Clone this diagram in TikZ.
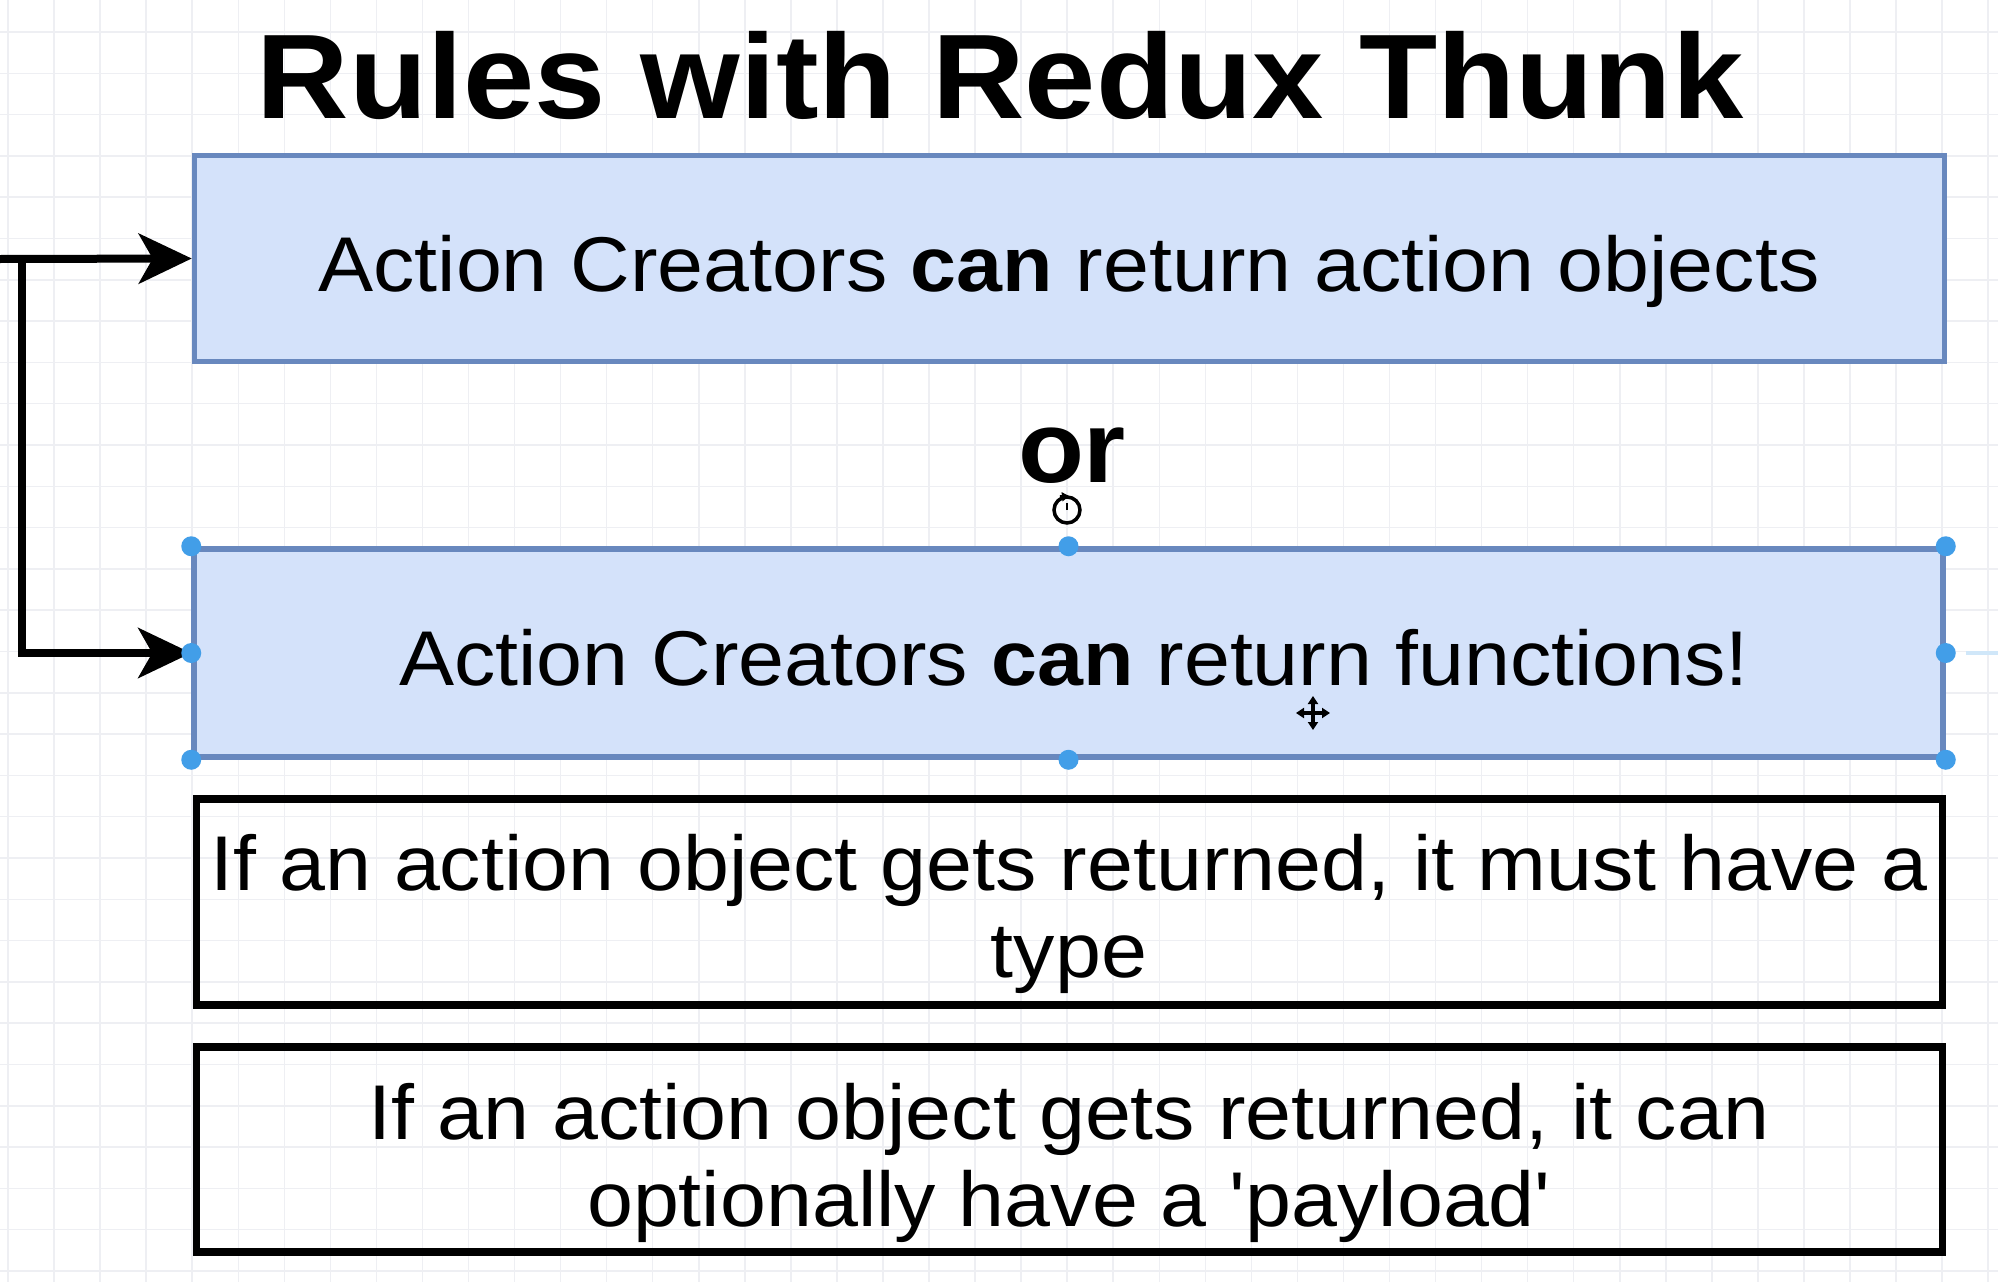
\documentclass[tikz,border=0pt]{standalone}
\usepackage{fontspec}
\usepackage{graphicx}
\setmainfont{Liberation Sans}
\newfontfamily\plainsans{Liberation Sans}
\usetikzlibrary{arrows.meta}
\definecolor{boxfill}{RGB}{212,226,250}
\definecolor{boxline}{RGB}{104,136,190}
\definecolor{handleblue}{RGB}{66,158,232}
\definecolor{gridgray}{RGB}{238,239,243}
\newcommand\squash[1]{\scalebox{1}[0.94]{#1}}
\tikzset{
  bluebox/.style={draw=boxline, fill=boxfill, line width=5.5pt, inner sep=0pt},
  blackbox/.style={draw=black, line width=7.5pt, inner sep=0pt},
  boxtext/.style={anchor=base, inner sep=0pt, font=\plainsans\fontsize{82.6pt}{93pt}\selectfont},
  titletext/.style={anchor=base, inner sep=0pt, font=\plainsans\fontsize{128pt}{140pt}\selectfont\bfseries},
  ortext/.style={anchor=base, inner sep=0pt, font=\plainsans\fontsize{108pt}{120pt}\selectfont\bfseries},
  conn/.style={draw=black, line width=8pt, line join=miter, -{Stealth[length=53pt, width=50pt, inset=14pt]}},
  handle/.style={fill=handleblue, draw=none},
  gridline/.style={draw=gridgray, line width=1.5pt},
  cursor/.style={draw=black, line width=3.5pt}
}
\begin{document}
\begin{tikzpicture}[x=1pt,y=-1pt]
\useasboundingbox (0,0) rectangle (1998,1282);
\fill[white] (0,0) rectangle (1998,1282);
% background grid
\foreach \k in {0,...,43} { \draw[gridline] ({8+46.05*\k},0) -- ({8+46.05*\k},1282); }
\foreach \k in {0,...,31} { \draw[gridline] (0,{-9.3+41.3*\k}) -- (1998,{-9.3+41.3*\k}); }

% title
\node[titletext] (title) at (1000,118) {\squash{Rules with Redux Thunk}};

% boxes
\node[bluebox, minimum width=1750pt, minimum height=206pt] (b1) at (1069.5,258.5) {};
\node[bluebox, minimum width=1749pt, minimum height=208pt] (b2) at (1068.5,653) {};
\node[blackbox, minimum width=1746pt, minimum height=206pt] (b3) at (1069.5,902) {};
\node[blackbox, minimum width=1746pt, minimum height=205pt] (b4) at (1069.5,1149.5) {};

% texts
\node[boxtext] (t1) at (1069,291) {\squash{Action Creators \textbf{can} return action objects}};
\node[ortext] (or) at (1072,482) {\squash{or}};
\node[boxtext] (t2) at (1074,685) {\squash{Action Creators \textbf{can} return functions!}};
\node[boxtext] (t3) at (1069,890) {\squash{\begin{tabular}[t]{@{}c@{}}If an action object gets returned, it must have a\\ type\end{tabular}}};
\node[boxtext] (t4) at (1069,1139) {\squash{\begin{tabular}[t]{@{}c@{}}If an action object gets returned, it can\\ optionally have a 'payload'\end{tabular}}};

% connectors
\coordinate (src) at (0,259);
\coordinate (jn) at (22,255);
\draw[conn] (src) -- (b1.west);
\draw[conn] (jn) |- (b2.west);

% selection handles on box 2
\foreach \a in {north west, north, north east, west, east, south west, south, south east} {
  \fill[handle] (b2.\a) circle (10pt);
}
\draw[handleblue!25, line width=4pt] (1966,653) -- (1998,653);

% rotate cursor
\draw[cursor] (1067,510) circle (13pt);
\draw[cursor, -{Triangle[length=7pt,width=9pt]}] (1060,497) -- (1069,496);
\draw[black, line width=2.5pt] (1067,510) -- (1067,503);
% move cursor
\draw[cursor, {Triangle[length=8pt,width=10pt]}-{Triangle[length=8pt,width=10pt]}] (1296,713) -- (1330,713);
\draw[cursor, {Triangle[length=8pt,width=10pt]}-{Triangle[length=8pt,width=10pt]}] (1313,696) -- (1313,730);
\end{tikzpicture}
\end{document}
